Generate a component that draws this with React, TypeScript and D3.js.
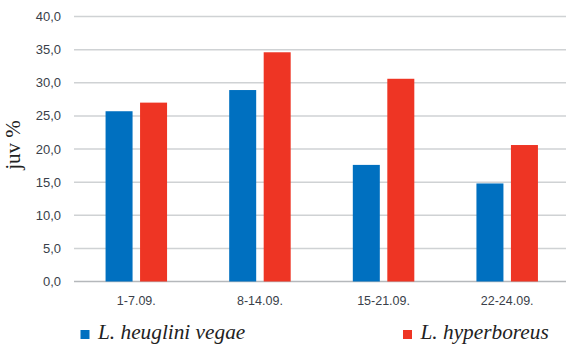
import React from "react";
import * as d3 from "d3";

const categories = ["1-7.09.", "8-14.09.", "15-21.09.", "22-24.09."];
const heuglini = [25.7, 28.9, 17.6, 14.8];
const hyperboreus = [27.0, 34.6, 30.6, 20.6];
const seriesNames = ["L. heuglini vegae", "L. hyperboreus"];
const yTicks = [0, 5, 10, 15, 20, 25, 30, 35, 40];

const W = 567;
const H = 346;
const colors = ["#0070C0", "#EE3524"];

export default function App() {
  const x = d3.scaleBand<string>().domain(categories).range([74.5, 569]).paddingInner(0).paddingOuter(0);
  const y = d3.scaleLinear().domain([0, 40]).range([281.5, 16.5]);
  const bw = x.bandwidth();
  const barW = 27;
  const gap = 7.5;
  const groupW = barW * 2 + gap;
  const fmt = (v: number) => v.toFixed(1).replace(".", ",");
  const series = [heuglini, hyperboreus];

  return (
    <svg width={W} height={H} style={{ position: "absolute", left: 0, top: 0, background: "#fff" }}>
      {yTicks.map((t) => (
        <g key={t}>
          <line x1={74} x2={566} y1={y(t)} y2={y(t)} stroke={t === 0 ? "#b5b8bb" : "#cfd2d4"} strokeWidth={1.5} />
          <text x={61} y={y(t)} dy="0.35em" textAnchor="end" fontFamily="Liberation Sans, Arial, sans-serif" fontSize={13} fill="#3a3f4a">
            {fmt(t)}
          </text>
        </g>
      ))}
      {categories.map((c, i) => {
        const x0 = (x(c) as number) + (bw - groupW) / 2;
        return (
          <g key={c}>
            {series.map((s, k) => (
              <rect
                key={k}
                x={x0 + k * (barW + gap)}
                y={y(s[i])}
                width={barW}
                height={y(0) - y(s[i])}
                fill={colors[k]}
              />
            ))}
            <text x={(x(c) as number) + bw / 2} y={305} textAnchor="middle" fontFamily="Liberation Sans, Arial, sans-serif" fontSize={12.5} fill="#3a3f4a">
              {c}
            </text>
          </g>
        );
      })}
      <text
        transform={`translate(20,145) rotate(-90)`}
        textAnchor="middle"
        fontFamily="Liberation Serif, Times New Roman, serif"
        fontSize={21}
        fill="#222"
      >
        juv %
      </text>
      {seriesNames.map((n, k) => {
        const lx = k === 0 ? 80.5 : 403;
        return (
          <g key={n}>
            <rect x={lx} y={330} width={9} height={9} fill={colors[k]} />
            <text x={lx + 17.5} y={338.5} fontFamily="Liberation Serif, Times New Roman, serif" fontStyle="italic" fontSize={21.3} fill="#222">
              {n}
            </text>
          </g>
        );
      })}
    </svg>
  );
}
